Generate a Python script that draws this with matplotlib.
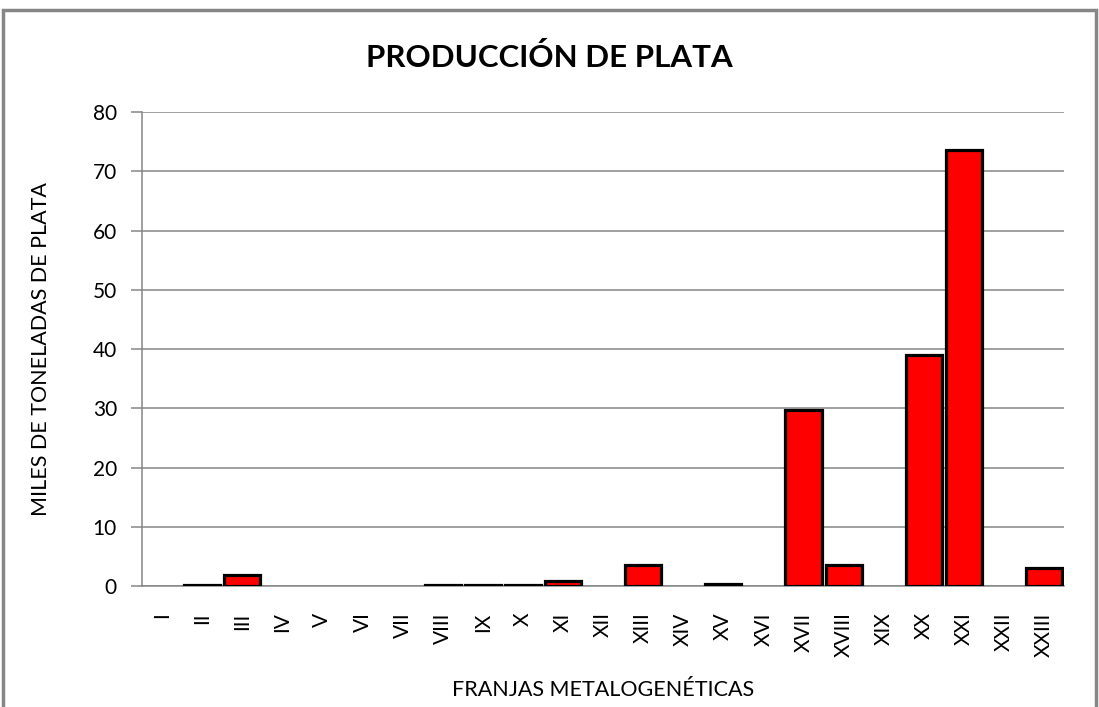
import matplotlib.pyplot as plt
from matplotlib.patches import Rectangle

plt.rcParams['font.family'] = ['Lato', 'DejaVu Sans']

franjas = ["I", "II", "III", "IV", "V", "VI", "VII", "VIII", "IX", "X", "XI", "XII",
           "XIII", "XIV", "XV", "XVI", "XVII", "XVIII", "XIX", "XX", "XXI", "XXII", "XXIII"]
plata = [0, 0.2, 1.9, 0, 0, 0, 0, 0.2, 0.2, 0.2, 0.8, 0,
         3.5, 0, 0.4, 0, 29.8, 3.5, 0, 39.0, 73.7, 0, 3.1]

fig = plt.figure(figsize=(10.99, 7.07), dpi=100)
ax = fig.add_axes([0.1292, 0.1711, 0.8390, 0.6701])

x = range(len(franjas))
edges = ["black" if v > 0 else "none" for v in plata]
ax.bar(x, plata, width=0.9, color="#ff0000", edgecolor=edges, linewidth=2.3, zorder=3)

ax.set_xlim(-0.5, len(franjas) - 0.5)
ax.set_ylim(0, 80)
ax.set_yticks(range(0, 81, 10))
ax.set_xticks(list(x))
ax.set_xticklabels(franjas, rotation=90, va="top", ha="center")

ax.grid(axis="y", color="#868686", linewidth=1.1, zorder=0)
for s in ["top", "right"]:
    ax.spines[s].set_visible(False)
for s in ["left", "bottom"]:
    ax.spines[s].set_color("#868686")
    ax.spines[s].set_linewidth(1.1)
ax.tick_params(axis="y", length=8, color="#868686", width=1.1, labelsize=15, pad=10)
ax.tick_params(axis="x", length=0, labelsize=15, pad=19)

ax.set_ylabel("MILES DE TONELADAS DE PLATA", fontsize=15.5, labelpad=30)
ax.set_xlabel("FRANJAS METALOGENÉTICAS", fontsize=15.5, labelpad=16)
fig.text(0.5, 0.919, "PRODUCCIÓN DE PLATA", ha="center", va="center",
         fontsize=22.5, fontweight="bold")

fig.patches.append(Rectangle((3 / 1099, -0.05), 1093 / 1099, 1 - 10 / 707 + 0.05,
                             transform=fig.transFigure, fill=False,
                             edgecolor="#868686", linewidth=2.5))

fig.savefig("out.png", dpi=100)
